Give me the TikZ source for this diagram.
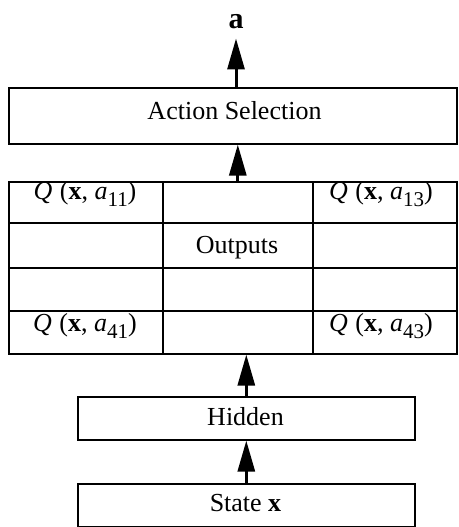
\documentclass[tikz,border=0pt]{standalone}
\usepackage{fontspec}
\setmainfont{Liberation Serif}
\usetikzlibrary{arrows.meta}
\newcommand{\qsub}[1]{\raisebox{-7pt}{\fontsize{21}{24}\selectfont #1}}
\newcommand{\qval}[1]{\textit{Q}\hspace{1pt} (\textbf{x}, \textit{a}\qsub{#1})}
\begin{document}
\begin{tikzpicture}[x=1pt,y=-1pt,
  box/.style={draw, line width=1.6pt, inner sep=0pt, minimum width=#1, anchor=north west},
  lbl/.style={inner sep=0pt, anchor=base, font=\fontsize{26}{30}\selectfont},
  arr/.style={line width=3pt, -{Triangle[length=31pt,width=17pt]}},
  grid/.style={line width=1.6pt}]
\useasboundingbox (0,0) rectangle (458,527);
% boxes
\node[box=448pt, minimum height=56pt] (action) at (8,87) {};
\node[box=448pt, minimum height=172pt] (table) at (8,181) {};
\node[box=150pt, minimum height=172pt] (midcol) at (162,181) {};
\node[box=337pt, minimum height=43pt] (hidden) at (77,396) {};
\node[box=337pt, minimum height=43pt] (state) at (77,483) {};
% row lines
\draw[grid] (table.west |- 0,223) -- (table.east |- 0,223);
\draw[grid] (table.west |- 0,268) -- (table.east |- 0,268);
\draw[grid] (table.west |- 0,311) -- (table.east |- 0,311);
% labels
\node[lbl, font=\fontsize{30}{34}\selectfont\bfseries] (alab) at (236,29) {a};
\node[lbl] (actlab) at (234.5,119) {Action Selection};
\node[lbl] (q11) at (85,199) {\qval{11}};
\node[lbl] (q13) at (381,199) {\qval{13}};
\node[lbl] (outlab) at (237,253) {Outputs};
\node[lbl] (q41) at (85,331) {\qval{41}};
\node[lbl] (q43) at (381,331) {\qval{43}};
\node[lbl] (hidlab) at (245.5,425) {Hidden};
\node[lbl] (statelab) at (245.5,511) {State \textbf{x}};
% arrows
\draw[arr] (action.north -| alab.south) -- ([yshift=-9pt]alab.south);
\draw[arr] (midcol.north) -- (midcol.north |- action.south);
\draw[arr] (hidden.north) -- (hidden.north |- table.south);
\draw[arr] (state.north) -- (hidden.south);
\end{tikzpicture}
\end{document}
